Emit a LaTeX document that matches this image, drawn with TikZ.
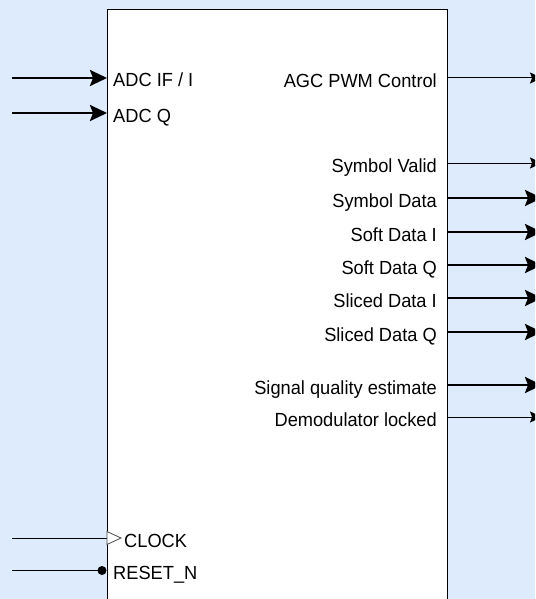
\documentclass[tikz,border=0pt]{standalone}
\usepackage{fontspec}
\setmainfont{Liberation Sans}[FakeStretch=0.96]
\usetikzlibrary{arrows.meta}
\definecolor{bgblue}{RGB}{221,235,252}
\tikzset{
  lbl/.style={font=\fontsize{19}{22}\selectfont, inner sep=0pt},
  thicksig/.style={line width=2.5pt, -{Stealth[length=17pt,width=16pt,inset=3pt]}},
  thinsig/.style={line width=1pt, -{Stealth[length=12pt,width=11pt,inset=2pt]}},
  plainsig/.style={line width=1pt},
}
\begin{document}
\begin{tikzpicture}[x=1pt,y=-1pt]
\clip (0,0) rectangle (535,599);
\fill[bgblue] (0,0) rectangle (535,599);
\node[draw=black, line width=1pt, fill=white, anchor=north west,
      minimum width=340pt, minimum height=620pt, inner sep=0pt] (blk) at (107,9.5) {};

% inputs
\coordinate (inA) at (12,78);   \coordinate (pA) at (107,78);
\coordinate (inQ) at (12,113);  \coordinate (pQ) at (107,113);
\coordinate (inC) at (12,538);  \coordinate (pC) at (107,538);
\coordinate (inR) at (12,570.5);\coordinate (pR) at (102,570.5);
\draw[thicksig] (inA) -- (pA);
\draw[thicksig] (inQ) -- (pQ);
\draw[plainsig] (inC) -- (pC);
\draw[plainsig] (inR) -- (pR);
\draw[gray!60!black, fill=white, line width=0.8pt] (107,531.5) -- (121,538) -- (107,544.5) -- cycle;
\fill (pR) circle (4.5);
\node[lbl, anchor=base west] (lA) at (113,87) {ADC IF / I};
\node[lbl, anchor=base west] (lQ) at (113,122) {ADC Q};
\node[lbl, anchor=base west] (lC) at (124,547) {CLOCK};
\node[lbl, anchor=base west] (lR) at (113,579.5) {RESET\_N};

% outputs
\foreach \y/\t/\s/\n in {
  78/AGC PWM Control/thinsig/o1,
  163/Symbol Valid/thinsig/o2,
  198/Symbol Data/thicksig/o3,
  232/Soft Data I/thicksig/o4,
  265/Soft Data Q/thicksig/o5,
  298/Sliced Data I/thicksig/o6,
  332/Sliced Data Q/thicksig/o7,
  385/Signal quality estimate/thicksig/o8,
  417/Demodulator locked/thinsig/o9}{
  \coordinate (\n p) at (447,\y);
  \coordinate (\n e) at (542,\y);
  \draw[\s] (\n p) -- (\n e);
  \node[lbl, anchor=base east] (\n l) at (437,\y+9.5) {\t};
}
\end{tikzpicture}
\end{document}
